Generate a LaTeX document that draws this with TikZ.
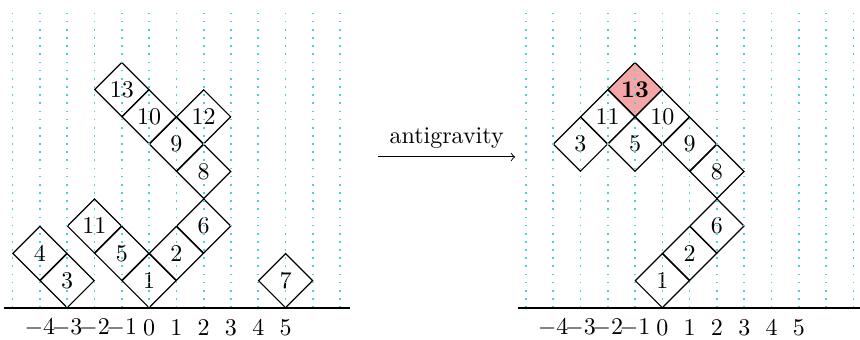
\documentclass[tikz,border=0pt]{standalone}
\usepackage{xcolor}
\usepackage{tikz}
\usetikzlibrary{shapes.geometric}
\definecolor{gridcyan}{RGB}{70,210,215}
\definecolor{hotpink}{RGB}{244,166,166}

\begin{document}
\begin{tikzpicture}[
  x=0.4cm, y=0.4cm,
  cell/.style={draw, line width=0.5pt, diamond, aspect=1, inner sep=0pt,
               minimum width=0.8cm, minimum height=0.8cm},
  grid/.style={gridcyan, line width=0.7pt, dash pattern=on 0.7pt off 2.7pt},
  axis/.style={semithick},
  tick/.style={inner sep=1pt},
  arr/.style={->, thin}
]
\useasboundingbox (-5.46,-1.14) rectangle (26.04,11.28);

% before
\foreach \n/\x/\y in {1/0/1, 2/1/2, 3/-3/1, 4/-4/2, 5/-1/2, 6/2/3, 7/5/1,
                      8/2/5, 9/1/6, 10/0/7, 11/-2/3, 12/2/7, 13/-1/8}
  \node[cell] (b\n) at (\x,\y) {$\n$};
\foreach \i in {-5,...,7}
  \draw[grid] (\i,0) -- (\i,10.9);
\draw[axis] (-5.3,0) -- (7.36,0);
\foreach \i in {-4,...,5}
  \node[tick] (bt\i) at (\i,-0.73) {$\i$};

% move
\coordinate (from) at (8.39,5.53);
\coordinate (to) at (13.41,5.53);
\draw[arr] (from) -- node[above] (move) {antigravity} (to);

% after
\begin{scope}[shift={(18.8,0)}]
\foreach \n/\x/\y in {1/0/1, 2/1/2, 3/-3/6, 5/-1/6, 6/2/3, 8/2/5,
                      9/1/6, 10/0/7, 11/-2/7}
  \node[cell] (a\n) at (\x,\y) {$\n$};
\node[cell, fill=hotpink] (a13) at (-1,8) {$\mathbf{13}$};
\foreach \i in {-5,...,7}
  \draw[grid] (\i,0) -- (\i,10.9);
\draw[axis] (-5.3,0) -- (7.24,0);
\foreach \i in {-4,...,5}
  \node[tick] (at\i) at (\i,-0.73) {$\i$};
\end{scope}
\end{tikzpicture}
\end{document}
